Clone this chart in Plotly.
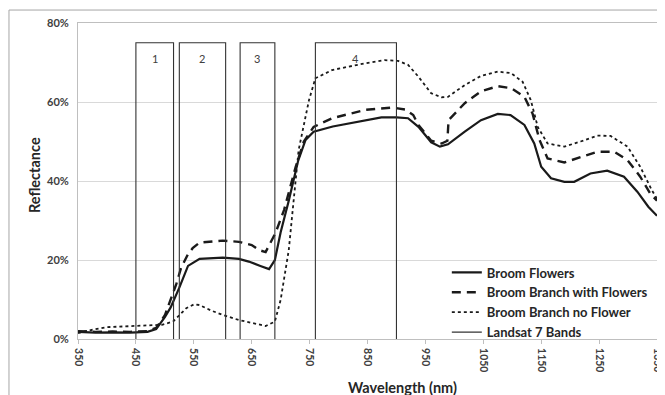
import plotly.graph_objects as go

# ---- data ----
wl_flowers = [350, 380, 410, 440, 470, 485, 500, 510, 525, 540, 560, 600, 628, 645, 665, 680, 690,
              700, 714, 730, 743, 757, 790, 817, 850, 874, 900, 920, 938, 960, 975, 989, 1018, 1046,
              1075, 1097, 1121, 1138, 1150, 1167, 1190, 1207, 1235, 1264, 1293, 1316, 1335, 1350]
refl_flowers = [1.8, 1.6, 1.7, 1.6, 1.8, 2.5, 5.5, 8, 13, 18.5, 20.3, 20.6, 20.3, 19.6, 18.5, 17.7, 20,
                27, 35, 45, 50.4, 52.5, 53.8, 54.6, 55.5, 56.1, 56.1, 55.9, 53.7, 49.8, 48.7, 49.3, 52.5, 55.4,
                57, 56.7, 54.2, 49.5, 43.6, 40.7, 39.8, 39.8, 41.9, 42.6, 41.1, 37.3, 33.5, 31.2]

wl_branch = [350, 380, 410, 440, 470, 485, 500, 510, 520, 528, 540, 548, 560, 600, 628, 650, 663, 674,
             691, 706, 726, 740, 757, 789, 846, 892, 915, 929, 938, 960, 978, 988, 990, 1018, 1046, 1075,
             1098, 1121, 1135, 1147, 1161, 1190, 1218, 1247, 1276, 1299, 1321, 1338, 1350]
refl_branch = [2.0, 1.8, 1.9, 1.8, 2.0, 2.8, 6, 10, 14, 18, 21.5, 23, 24.4, 24.9, 24.6, 23.8, 22.5, 22,
               26.8, 32.7, 43.6, 50, 53.7, 55.9, 58, 58.6, 58.1, 56.7, 54.2, 50.2, 49.5, 50.2, 55.4, 59.7, 62.7, 64,
               63.5, 61.3, 57.1, 50.4, 45.7, 44.7, 46, 47.4, 47.4, 45.3, 41.1, 36.9, 35]

wl_noflower = [350, 370, 400, 440, 480, 495, 514, 537, 551, 560, 580, 600, 628, 650, 674, 690, 700, 714,
               723, 731, 749, 760, 789, 846, 880, 903, 920, 938, 960, 978, 989, 1018, 1046, 1075, 1098,
               1118, 1132, 1144, 1161, 1190, 1218, 1247, 1270, 1299, 1321, 1341, 1350]
refl_noflower = [1.5, 2.2, 3.0, 3.2, 3.4, 3.6, 4.4, 7.8, 8.8, 8.6, 7.2, 6.1, 4.8, 4.0, 3.3, 4.4, 9.9, 22.5,
                 35.2, 47.8, 60.5, 66, 68.1, 69.8, 70.6, 70.4, 69.4, 66.4, 62.2, 61.2, 61.3, 64.3, 66.6, 67.7, 67.3,
                 65.1, 60.5, 53.7, 49.5, 48.7, 50, 51.5, 51.4, 48.7, 43.6, 37.7, 35.5]

band_start = [450, 525, 630, 760]
band_end = [515, 605, 690, 900]
band_top = 75
band_labels = ["1", "2", "3", "4"]

x_ticks = [350, 450, 550, 650, 750, 850, 950, 1050, 1150, 1250, 1350]
y_ticks = [0, 20, 40, 60, 80]
y_ticktext = ["0%", "20%", "40%", "60%", "80%"]

# ---- figure ----
FONT = "Lato"
TXT = "#404040"
LINE = "#1a1a1a"

fig = go.Figure()

fig.add_trace(go.Scatter(x=wl_flowers, y=refl_flowers, name="Broom Flowers", mode="lines",
                         line=dict(color=LINE, width=2.2)))
fig.add_trace(go.Scatter(x=wl_branch, y=refl_branch, name="Broom Branch with Flowers", mode="lines",
                         line=dict(color=LINE, width=2.4, dash="9px,6px")))
fig.add_trace(go.Scatter(x=wl_noflower, y=refl_noflower, name="Broom Branch no Flower", mode="lines",
                         line=dict(color=LINE, width=1.8, dash="dot")))

bx, by = [], []
for s, e in zip(band_start, band_end):
    bx += [s, s, e, e, None]
    by += [0, band_top, band_top, 0, None]
fig.add_trace(go.Scatter(x=bx, y=by, name="Landsat 7 Bands", mode="lines",
                         line=dict(color="#333333", width=1.1)))

for s, e, lab in zip(band_start, band_end, band_labels):
    fig.add_annotation(x=(s + e) / 2, y=band_top - 4.1, text=lab, showarrow=False,
                       font=dict(family=FONT, size=11, color=TXT), xref="x", yref="y")

# axis titles
fig.add_annotation(x=0.5596, y=-0.1519, xref="paper", yref="paper", text="Wavelength (nm)",
                   showarrow=False, xanchor="center", yanchor="middle",
                   font=dict(family=FONT, size=14.5, color="#262626", weight="bold"))
fig.add_annotation(x=-0.0743, y=0.519, xref="paper", yref="paper", text="Reflectance",
                   showarrow=False, xanchor="center", yanchor="middle", textangle=-90,
                   font=dict(family=FONT, size=14.5, color="#262626", weight="bold"))

# outer chart border (top and left edges)
fig.add_shape(type="line", xref="paper", yref="paper", x0=-0.1192, x1=1.05, y0=1.041, y1=1.041,
              line=dict(color="#a6a6a6", width=1))
fig.add_shape(type="line", xref="paper", yref="paper", x0=-0.1192, x1=-0.1192, y0=-0.25, y1=1.041,
              line=dict(color="#a6a6a6", width=1))

fig.update_layout(
    width=657, height=387,
    margin=dict(l=70, r=8, t=15, b=56, autoexpand=False),
    paper_bgcolor="white", plot_bgcolor="white",
    font=dict(family=FONT, color=TXT),
    showlegend=True,
    legend=dict(x=0.637, y=0.258, xanchor="left", yanchor="top",
                bgcolor="rgba(255,255,255,0)", borderwidth=0,
                font=dict(family=FONT, size=13, color="#262626", weight="bold"),
                itemwidth=30, tracegroupgap=0),
    xaxis=dict(range=[350, 1350], tickvals=x_ticks, ticktext=[str(v) for v in x_ticks],
               tickangle=90, tickfont=dict(family=FONT, size=10.5, color="#404040", weight="bold"),
               showgrid=False, zeroline=False, showline=True, linecolor="#bfbfbf", linewidth=1,
               mirror=True, ticks="outside", ticklen=4, tickcolor="#bfbfbf", ticklabelstandoff=2,
               ticklabeloverflow="allow", automargin=False),
    yaxis=dict(range=[0, 80], tickvals=y_ticks, ticktext=y_ticktext,
               tickfont=dict(family=FONT, size=11, color="#404040", weight="bold"),
               showgrid=True, gridcolor="#d9d9d9", gridwidth=1, zeroline=False,
               showline=True, linecolor="#bfbfbf", linewidth=1, mirror=True,
               ticks="", ticklabelstandoff=6, automargin=False),
)

fig.write_html("out.html")
